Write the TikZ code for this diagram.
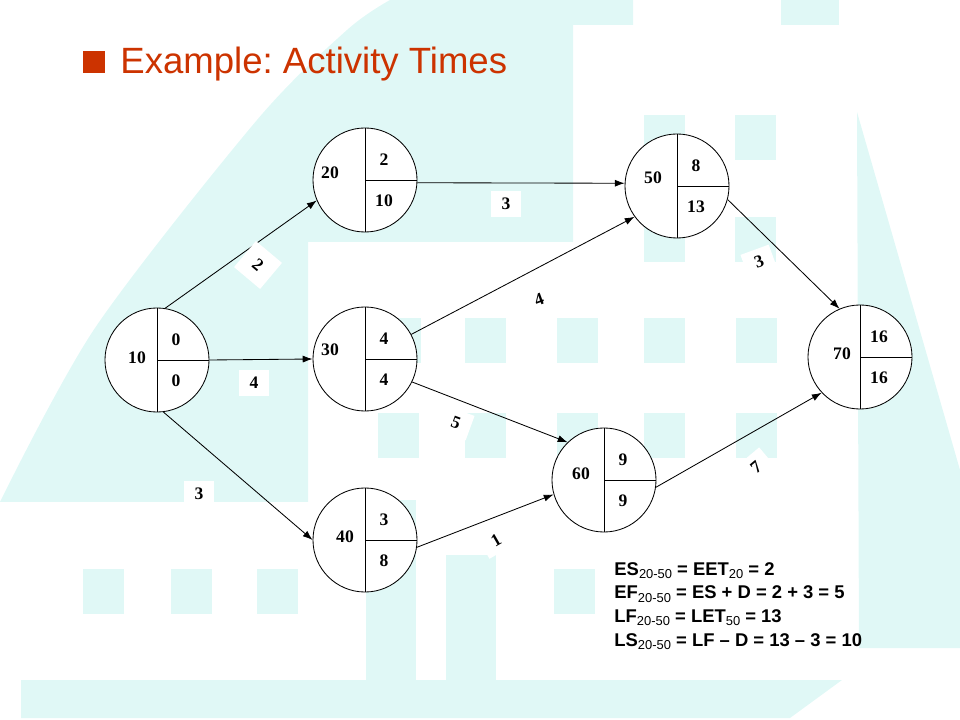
\documentclass[tikz,border=0pt]{standalone}
\usepackage{fontspec}
\setmainfont{Liberation Serif}
\newfontfamily\arial{Liberation Sans}
\usetikzlibrary{arrows.meta}
\definecolor{bgcyan}{RGB}{224,248,246}
\definecolor{titlered}{RGB}{204,51,0}
\newcommand\evsub[1]{\raisebox{-2.2pt}{\fontsize{9.2}{9}\selectfont\mdseries #1}}

\begin{document}
\begin{tikzpicture}[>={Latex[length=7pt,width=5pt]}, x=0.025cm, y=-0.025cm, line width=0.6pt,
	event/.style={circle, draw, fill=white, minimum size=2.6cm, inner sep=0pt},
	num/.style={inner sep=0pt, font=\fontsize{12.5}{14}\selectfont\bfseries},
	dur/.style={fill=white, inner sep=0pt, minimum width=0.75cm, minimum height=0.65cm, font=\fontsize{12.5}{14}\selectfont\bfseries},
	formula/.style={anchor=base west, inner sep=0pt, font=\arial\bfseries\fontsize{13.1}{16}\selectfont}]

\useasboundingbox (0,0) rectangle (960,720);

% background
\begin{scope}[bgcyan]
\fill plot[smooth] coordinates {(0,502) (95,328) (257,120) (347,30) (390,0)} -- (633,0) -- (633,25) -- (573,25) -- (573,242) -- (308,242) -- (308,502) -- cycle;
\fill (781,0) rectangle (839,25);
\fill (857,112) -- (960,470) -- (960,648) -- (859,648) -- cycle;
\fill (366,500) rectangle (416,680);
\fill (446,555) rectangle (496,680);
\fill (21,680) -- (842,680) -- (790,718) -- (21,718) -- cycle;
\foreach \x/\y in {644/115, 735/115, 644/217, 735/217, 380/318, 465/318, 557/318, 644/318, 736/318,
	378/413, 465/413, 557/413, 644/413, 736/413, 83/569, 171/569, 257/569, 554/569}
	\fill (\x,\y) rectangle ++(41,45);
\end{scope}

\node[fill=titlered, minimum size=0.55cm, inner sep=0pt] (bullet) at (94,62) {};
\node[anchor=base west, inner sep=0pt, text=titlered, font=\arial\fontsize{26}{30}\selectfont] (title) at (120,74) {\frenchspacing Example: Activity Times};

\foreach \n/\x/\y/\lx/\ly/\es/\lf in {10/157/360/-20/-2/0/0, 20/365/180/-35/-7/2/10, 30/365/359/-35/-9/4/4,
	40/365/540/-20/-3/3/8, 50/677/186/-24/-8/8/13, 60/604/480/-23/-6/9/9, 70/860/357/-18/-3/16/16}
{
	\node[event] (n\n) at (\x,\y) {};
	\draw (n\n.north) -- (n\n.south) (n\n.center) -- (n\n.east);
	\path (n\n.center) ++(\lx,\ly) node[num] (id\n) {\n};
	\path (n\n.center) ++(19,-20) node[num] (es\n) {\es};
	\path (n\n.center) ++(19,21) node[num] (lf\n) {\lf};
}

\draw[->] (n10.81) -- (n20.203);
\draw[->] (n10.east) -- (n30.west);
\draw[->] (n10.277) -- (n40.west);
\draw[->] (n20.-3) -- (n50.177);
\draw[->] (n30.28) -- (n50.216);
\draw[->] (n30.-26) -- (n60.134);
\draw[->] (n40.-8) -- (n60.196);
\draw[->] (n50.-15) -- (n70.113);
\draw[->] (n60.-8) -- (n70.223);

\node[dur, rotate=-40, minimum size=0.85cm] (d1020) at (258,265) {2};
\node[dur] (d1030) at (254,383) {4};
\node[dur] (d1040) at (199,494) {3};
\node[dur] (d2050) at (506,204) {3};
\node[dur, rotate=20] (d3050) at (539,300) {4};
\node[dur, rotate=-20] (d3060) at (456,423) {5};
\node[dur, rotate=30] (d4060) at (496,540) {1};
\node[dur, rotate=20] (d5070) at (759,262) {3};
\node[dur, rotate=40] (d6070) at (756,467) {7};

\node[formula] (f1) at (614,575) {ES\evsub{20-50} = EET\evsub{20} = 2};
\node[formula] (f2) at (614,599) {EF\evsub{20-50} = ES + D = 2 + 3 = 5};
\node[formula] (f3) at (614,622) {LF\evsub{20-50} = LET\evsub{50} = 13};
\node[formula] (f4) at (614,646) {LS\evsub{20-50} = LF – D = 13 – 3 = 10};

\end{tikzpicture}
\end{document}
